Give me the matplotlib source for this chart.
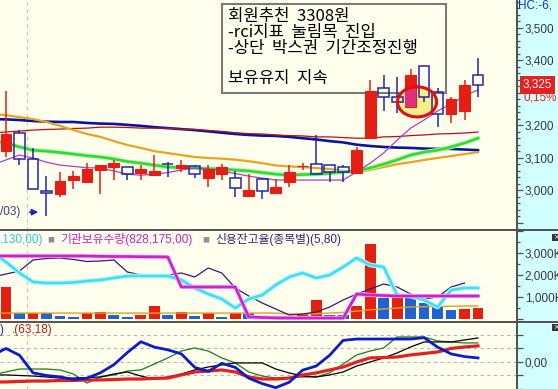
import numpy as np
import matplotlib.pyplot as plt
from matplotlib import font_manager
from matplotlib.patches import Rectangle, Ellipse
from matplotlib.lines import Line2D
import matplotlib.patheffects as pe
from matplotlib.ticker import MultipleLocator, FuncFormatter

W, H = 558, 389
_names = {f.name for f in font_manager.fontManager.ttflist}
NARROW = 'Liberation Sans Narrow' in _names
NUM_FONT = 'Liberation Sans Narrow' if NARROW else 'Liberation Sans'
NUM_SIZE = 10 if NARROW else 8.5
plt.rcParams['font.family'] = [NUM_FONT, 'Noto Sans CJK KR', 'DejaVu Sans']
plt.rcParams['savefig.bbox'] = 'standard'
KR = ['Noto Sans CJK KR', 'DejaVu Sans']

# ---- 데이터 (일봉) ----
opens = [3120, 3176, 3096, 2997, 2988, 3031, 3025, 3062, 3071, 3071, 3052, 3046,
         3080, 3068, 3074, 3037, 3049, 3037, 2981, 3034, 2991, 3025, 3073, 3080,
         3077, 3071, 3052, 3160, 3315, 3287, 3256, 3383, 3302, 3235, 3244, 3355]
highs = [3306, 3185, 3130, 3043, 3056, 3059, 3083, 3077, 3093, 3071, 3077, 3108,
         3086, 3093, 3077, 3077, 3080, 3059, 3049, 3034, 3034, 3077, 3083, 3170,
         3077, 3077, 3133, 3339, 3355, 3349, 3373, 3383, 3315, 3287, 3339, 3407]
lows = [3102, 3077, 3003, 2920, 2978, 3003, 3025, 2988, 3031, 3031, 3031, 3043,
        3040, 3056, 3037, 3009, 3031, 2978, 2981, 2972, 2991, 3009, 3062, 3049,
        3025, 3025, 3052, 3160, 3244, 3238, 3256, 3272, 3194, 3207, 3216, 3287]
closes = [3173, 3096, 3003, 2991, 3028, 3043, 3065, 3077, 3083, 3049, 3065, 3059,
          3079, 3077, 3049, 3065, 3071, 3006, 3000, 2997, 3009, 3056, 3074, 3049,
          3056, 3056, 3123, 3306, 3287, 3272, 3355, 3287, 3235, 3281, 3324, 3325]
change_pct = '0,15%'

# 이동평균 (인덱스 -1 ~ 35)
ma_navy = [3219, 3218, 3216, 3213, 3211, 3210, 3210, 3207, 3205, 3204, 3201, 3198,
           3194, 3191, 3188, 3185, 3181, 3177, 3173, 3170, 3168, 3167, 3164, 3160,
           3156, 3151, 3147, 3140, 3136, 3133, 3131, 3130, 3128, 3127, 3127, 3125, 3123]
ma_red = [3177, 3179, 3182, 3185, 3187, 3188, 3190, 3191, 3194, 3194, 3193, 3191,
          3191, 3191, 3188, 3187, 3184, 3181, 3177, 3174, 3173, 3170, 3168, 3167,
          3164, 3164, 3162, 3160, 3160, 3164, 3165, 3168, 3170, 3173, 3174, 3176, 3179]
ma_orange = [3235, 3231, 3225, 3219, 3210, 3198, 3185, 3173, 3164, 3151, 3139, 3130,
             3120, 3114, 3108, 3102, 3099, 3097, 3094, 3089, 3083, 3076, 3073, 3071,
             3068, 3065, 3059, 3056, 3062, 3071, 3080, 3086, 3093, 3099, 3105, 3111, 3117]
ma_green = [3151, 3145, 3133, 3123, 3120, 3116, 3111, 3106, 3102, 3096, 3088, 3083,
            3077, 3071, 3069, 3068, 3066, 3065, 3062, 3059, 3054, 3049, 3046, 3048,
            3049, 3052, 3056, 3059, 3068, 3080, 3093, 3108, 3117, 3123, 3133, 3145, 3160]
ma_magenta = [3077, 3093, 3108, 3099, 3086, 3077, 3073, 3069, 3068, 3059, 3049, 3046,
              3049, 3054, 3062, 3068, 3065, 3059, 3051, 3043, 3037, 3031, 3031, 3031,
              3031, 3031, 3031, 3056, 3083, 3114, 3154, 3191, 3216, 3244, 3265, 3290, 3309]

# 수급 패널 (K)
net_qty = [1450, 270, 270, 270, 135, 90, 270, 320, 180, 90, 180, 590,
           180, 320, 135, 270, 90, 270, 270, 60, 90, 60, 250, 860,
           180, 180, 590, 3400, 950, 1000, 950, 730, 550, 410, 450, 500]
net_is_buy = [1, 0, 1, 0, 0, 0, 1, 1, 0, 0, 1, 1, 0, 1, 0, 1, 0, 1,
              0, 0, 1, 0, 1, 1, 0, 0, 1, 1, 0, 1, 0, 0, 0, 0, 1, 1]
foreign_hold = [3045, 2591, 2091, 1682, 1636, 1636, 1659, 1727, 1773, 1864, 1955, 1955,
                1955, 1955, 1773, 1409, 1136, 909, 500, 909, 1091, 1545, 1909, 2091,
                1864, 2000, 2364, 2773, 2455, 2364, 1091, 1045, 864, 545, 1318, 1409, 1409]
inst_hold = [2864, 2864, 2864, 2864, 2864, 2864, 2864, 2860, 2850, 2840, 2840, 2830,
             2825, 2818, 1455, 1455, 1455, 1455, 1455, 91, 68, 50, 45, 45,
             45, 45, 45, 1136, 1091, 1068, 1045, 1045, 1045, 1045, 1045, 1045, 1045]
credit_ratio = [1909, 2045, 2182, 2682, 2750, 2773, 2705, 2614, 2636, 2682, 2136, 2000,
                2000, 2000, 2091, 1909, 2318, 2091, 1409, 1045, 727, 455, 182, 227,
                318, 545, 864, 1136, 1364, 1591, 1455, 1136, 909, 1000, 1455, 1636]
avg_line = [270, 270, 270, 270, 270, 270, 270, 270, 270, 270, 270, 270,
            270, 270, 270, 270, 270, 270, 270, 270, 270, 270, 230, 230,
            240, 270, 300, 360, 420, 455, 500, 545, 560, 570, 580, 590, 591]

# 지표 패널
ind_blue = [5, 10, 5, -8, -10, -11, -13, -12, -8, -2, 7, 15, 11, 9, 6, -4, -7, -1, -4,
            -12, -16, -19, -15, -6, -3, 5, 16, 17, 17, 17, 17, 17, 18, 11, 6, 4, 3]
ind_red = [-14.8, -14.8, -14.4, -14.1, -14.1, -13.7, -13.7, -13.3, -13.3, -13.0, -12.6,
           -12.6, -12.2, -11.9, -9.6, -7.4, -6.7, -5.9, -7.4, -11.1, -12.6, -12.6, -11.9,
           -9.6, -8.1, -5.9, -3.7, 0.0, 3.0, 3.3, 3.7, 5.2, 6.3, 7.4, 10.0, 11.1, 11.9]
ind_black = [-9.6, -9.6, -10.0, -10.4, -11.1, -11.9, -11.9, -11.5, -11.1, -8.9, -7.4,
             -10.4, -12.6, -11.1, -8.9, -5.9, -3.7, -2.2, -0.7, -0.7, -0.7, -5.2, -8.1,
             -10.4, -11.1, -9.6, -7.4, -3.0, 0.0, 3.0, 6.7, 11.1, 14.8, 14.8, 14.8, 16.3, 17.8]
ind_green = [-9.6, -7.4, -5.2, -5.2, -5.2, -5.9, -8.9, -15.6, -11.1, -9.6, -6.7, -5.9,
             -1.5, 3.0, 8.1, 10.4, 8.1, 3.0, -0.7, -7.4, -10.4, -11.9, -11.9, -11.1,
             -11.1, -8.1, -1.5, 5.2, 8.1, 10.4, 18.5, 18.5, 18.5, 15.6, 14.8, 14.1, 14.1]

month_break = 1.52
highlight_center = (30.48, 3272)   # 원 표시 위치
highlight_size = (2.9, 93)

memo_lines = ['회원추천  3308원', '-rci지표  눌림목  진입', '-상단  박스권  기간조정진행', '', '보유유지  지속']

# ---- 색상 ----
BG = '#FFFFEE'
PANEL = '#D2FFFF'
RED = '#E41E14'
BLUE = '#2424A8'
GRID = '#505050'

opens, highs, lows, closes = map(np.array, (opens, highs, lows, closes))
idx = np.arange(len(opens))
idx_ma = np.arange(-1, len(opens))

fig = plt.figure(figsize=(W / 100, H / 100), dpi=100)
fig.patch.set_facecolor(PANEL)


def px_axes(top, bottom):
    return fig.add_axes([0, 1 - bottom / H, 517 / W, (bottom - top) / H])


ax1 = px_axes(0, 230)
ax2 = px_axes(230, 322)
ax3 = px_axes(322, 389)

for ax in (ax1, ax2, ax3):
    ax.set_facecolor(BG)
    ax.set_xlim(-0.445, 37.89)
    for s in ('top', 'left', 'bottom'):
        ax.spines[s].set_visible(False)
    ax.spines['right'].set_color(GRID)
    ax.spines['right'].set_linewidth(1.4)
    ax.set_xticks([])
    ax.yaxis.tick_right()
    ax.tick_params(axis='y', which='major', direction='out', length=4, width=0.9,
                   color=GRID, labelsize=NUM_SIZE, labelcolor='#383838', pad=1.5)
    ax.tick_params(axis='y', which='minor', direction='out', length=2.5, width=0.9, color=GRID)
    ax.axvline(month_break, color='#C8C8C8', lw=0.9, ls=(0, (3, 3)), zorder=1)

# ---- 가격 차트 ----
ax1.set_ylim(2877, 3586)
ax1.yaxis.set_major_locator(MultipleLocator(100))
ax1.yaxis.set_minor_locator(MultipleLocator(20))
ax1.yaxis.set_major_formatter(FuncFormatter(
    lambda v, p: f'{int(v):,}' if 2990 < v < 3510 and abs(v - closes[-1]) > 40 else ''))

ax1.plot(idx_ma, ma_navy, color='#0A14A0', lw=1.9, zorder=3)
ax1.plot(idx_ma, ma_red, color='#B01414', lw=0.9, zorder=3)
ax1.plot(idx_ma, ma_orange, color='#E8A420', lw=1.6, zorder=3)
ax1.plot(idx_ma, ma_green, color='#30DC30', lw=1.9, zorder=3,
         path_effects=[pe.Stroke(linewidth=3.2, foreground='#B8F4B0'), pe.Normal()])
ax1.plot(idx_ma, ma_magenta, color='#B040C0', lw=0.9, zorder=3)

# 메모 박스
memo = Rectangle((222 / W, 1 - 93 / H), 224 / W, 89 / H, transform=fig.transFigure,
                 facecolor=BG, edgecolor='#7A7A7A', lw=1.5, zorder=2)
ax1.add_patch(memo)
line_y = [16, 33, 48, 63, 79]
for s, y in zip(memo_lines, line_y):
    if s:
        ax1.text(228 / W, 1 - y / H, s, transform=fig.transFigure, family=KR,
                 fontsize=12, color='black', va='center', ha='left', zorder=2.1)

# 강조 원
hl = Ellipse(highlight_center, *highlight_size, facecolor='#F6F08C', edgecolor='none', zorder=2.5)
ax1.add_patch(hl)
ax1.add_patch(Ellipse(highlight_center, *highlight_size, facecolor='none',
                      edgecolor='#E01010', lw=2.2, zorder=6))

# 캔들
up = closes >= opens
dn = ~up
lo_b = np.minimum(opens, closes)
hi_b = np.maximum(opens, closes)
hgt = np.maximum(hi_b - lo_b, 1.5)
ax1.vlines(idx[up], lows[up], highs[up], color=RED, lw=1.1, zorder=4)
ax1.bar(idx[up], hgt[up], bottom=lo_b[up], width=0.8, color=RED, edgecolor=RED, lw=0.8, zorder=4.2)
ax1.vlines(idx[dn], hi_b[dn], highs[dn], color=BLUE, lw=1.1, zorder=4)
ax1.vlines(idx[dn], lows[dn], lo_b[dn], color=BLUE, lw=1.1, zorder=4)
ax1.bar(idx[dn], hgt[dn], bottom=lo_b[dn], width=0.8, facecolor='none', edgecolor=BLUE,
        lw=1.1, zorder=4.2)
pink = ax1.bar(idx[up], hgt[up], bottom=lo_b[up], width=0.8, color='#E0307C', zorder=4.5)
for p in pink:
    p.set_clip_path(hl)

# 최저가 표시
low_i = int(np.argmin(lows))
ax1.annotate('', xy=(low_i - 0.4, lows[low_i] + 12), xytext=(low_i - 1.45, lows[low_i] + 12),
             arrowprops=dict(arrowstyle='-|>', color='#1428C8', lw=1.2, mutation_scale=9))
ax1.text(low_i - 1.95, lows[low_i] + 12, '/03)', ha='right', va='center',
         fontsize=NUM_SIZE, color='#3C3C7C')

# 현재가 라벨
ax1.annotate(f'{closes[-1]:,}', xy=(1, closes[-1]), xycoords=('axes fraction', 'data'),
             xytext=(6, 0), textcoords='offset pixels', ha='left', va='center',
             fontsize=NUM_SIZE, color='white', annotation_clip=False, zorder=10,
             bbox=dict(boxstyle='square,pad=0.25', fc='#E42020', ec='none'))
ax1.annotate(change_pct, xy=(1, closes[-1]), xycoords=('axes fraction', 'data'),
             xytext=(6, -13), textcoords='offset pixels', ha='left', va='center',
             fontsize=NUM_SIZE, color='#E42020', annotation_clip=False)
fig.text(518 / W, 1 - 5 / H, 'HC:-6,', fontsize=NUM_SIZE, color='#1C30C0', va='center', ha='left')

# ---- 수급 패널 ----
ax2.set_ylim(-136, 4045)
ax2.yaxis.set_major_locator(MultipleLocator(1000))
ax2.yaxis.set_minor_locator(MultipleLocator(500))
ax2.yaxis.set_major_formatter(FuncFormatter(lambda v, p: f'{v:,.0f}K' if 0 < v < 3500 else ''))
bar_cols = ['#E42010' if b else '#2262D0' for b in net_is_buy]
ax2.bar(idx, net_qty, width=0.8, color=bar_cols, zorder=2)
ax2.plot(idx_ma, avg_line, color='#E0A020', lw=1.0, zorder=3)
ax2.plot(idx_ma[:len(credit_ratio)], credit_ratio, color='#36187C', lw=0.9, zorder=3)
ax2.plot(idx_ma, foreign_hold, color='#40E0F0', lw=1.9, zorder=4,
         path_effects=[pe.Stroke(linewidth=3.4, foreground='#B8F6FC'), pe.Normal()])
ax2.plot(idx_ma, inst_hold, color='#D21ED2', lw=1.9, zorder=4,
         path_effects=[pe.Stroke(linewidth=3.0, foreground='#F2B0F2'), pe.Normal()])

leg_y = 1 - 240 / H
fig.text(0, leg_y, ',130,00)', fontsize=8.5, color='#30C8DC', va='center')
fig.text(51 / W, leg_y, '■', fontsize=5, color='#909090', va='center', ha='center', family=KR)
fig.text(60 / W, leg_y, '기관보유수량(828,175,00)', fontsize=8.5, color='#D020C8', va='center')
fig.text(206 / W, leg_y, '■', fontsize=5, color='#909090', va='center', ha='center', family=KR)
fig.text(215 / W, leg_y, '신용잔고율(종목별)(5,80)', fontsize=8.5, color='#36207C', va='center')

# ---- 지표 패널 ----
ax3.set_ylim(-20, 29.6)
ax3.yaxis.set_major_locator(MultipleLocator(10))
ax3.yaxis.set_major_formatter(FuncFormatter(lambda v, p: '0,00' if abs(v) < 1e-6 else ''))
for g in (-10, 0, 10, 20):
    ax3.axhline(g, color='#B4B4B4', lw=0.8, ls=(0, (3, 3)), zorder=1)
ax3.plot(idx_ma, ind_green, color='#207A20', lw=0.9, zorder=3)
ax3.plot(idx_ma, ind_black, color='black', lw=0.9, zorder=3)
ax3.plot(idx_ma, ind_red, color='#E42020', lw=2.3, zorder=4)
ax3.plot(idx_ma, ind_blue, color='#0C1CC8', lw=2.0, zorder=5)
fig.text(0, 1 - 330 / H, ')', fontsize=8.5, color='#2030A0', va='center')
fig.text(12 / W, 1 - 330 / H, '.(63,18)', fontsize=8.5, color='#B02020', va='center')

# 패널 구분선 / 아이콘
for y in (230, 322):
    fig.add_artist(Line2D([0, 1], [1 - y / H, 1 - y / H], color=GRID, lw=1.4))
for y in (234, 324):
    fig.add_artist(Rectangle((552 / W, 1 - (y + 7) / H), 7 / W, 7 / H, facecolor='#383838',
                             edgecolor='none', transform=fig.transFigure))
    fig.text(555.5 / W, 1 - (y + 3.5) / H, '×', fontsize=5, color='white',
             ha='center', va='center', family='DejaVu Sans')

fig.savefig('out.png', dpi=100, facecolor=fig.get_facecolor())
